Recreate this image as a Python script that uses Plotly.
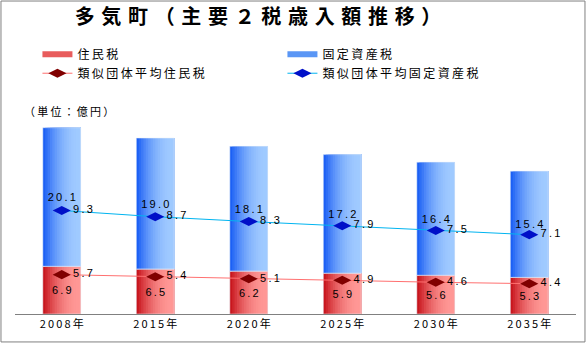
import plotly.graph_objects as go

# ---- data (億円) ----
years = ["2008年", "2015年", "2020年", "2025年", "2030年", "2035年"]
resident_tax = [6.9, 6.5, 6.2, 5.9, 5.6, 5.3]
property_tax = [20.1, 19.0, 18.1, 17.2, 16.4, 15.4]
peer_resident_tax = [5.7, 5.4, 5.1, 4.9, 4.6, 4.4]
peer_property_tax = [9.3, 8.7, 8.3, 7.9, 7.5, 7.1]

title_text = "多気町（主要２税歳入額推移）"
unit_text = "（単位：億円）"
name_resident = "住民税"
name_property = "固定資産税"
name_peer_resident = "類似団体平均住民税"
name_peer_property = "類似団体平均固定資産税"

FONT = "Noto Sans CJK JP"
RED_DARK, RED_LIGHT = (200, 22, 30), (255, 152, 150)
BLUE_DARK, BLUE_LIGHT = (28, 96, 245), (160, 202, 255)
BAR_W = 0.405
SLICES = 16


def spaced(s, sep="\u2009"):
    return sep.join(s)


def fmt(v):
    return spaced(f"{v:.1f}")


def blend(c0, c1, t):
    t = 1 - (1 - t) ** 2
    return "rgb(%d,%d,%d)" % tuple(round(a + (b - a) * t) for a, b in zip(c0, c1))


fig = go.Figure()

# stacked bars drawn as overlapping slices to give a left-to-right shading
for i in range(SLICES):
    t = i / (SLICES - 1)
    off = -BAR_W / 2 + i * BAR_W / SLICES
    w = BAR_W - i * BAR_W / SLICES
    fig.add_bar(x=years, y=resident_tax, offset=off, width=w,
                marker=dict(color=blend(RED_DARK, RED_LIGHT, t), line=dict(width=0)),
                showlegend=False, hoverinfo="skip")
    fig.add_bar(x=years, y=property_tax, base=resident_tax, offset=off, width=w,
                marker=dict(color=blend(BLUE_DARK, BLUE_LIGHT, t), line=dict(width=0)),
                showlegend=False, hoverinfo="skip")

# value labels centred in each segment
label_font = dict(family="Liberation Sans", size=11, color="black")
fig.add_bar(x=years, y=resident_tax, width=BAR_W, marker=dict(color="rgba(0,0,0,0)"),
            text=[fmt(v) for v in resident_tax], textposition="inside",
            insidetextanchor="middle", textangle=0, textfont=label_font,
            showlegend=False, hoverinfo="skip")
fig.add_bar(x=years, y=property_tax, base=resident_tax, width=BAR_W,
            marker=dict(color="rgba(0,0,0,0)"),
            text=[fmt(v) for v in property_tax], textposition="inside",
            insidetextanchor="middle", textangle=0, textfont=label_font,
            showlegend=False, hoverinfo="skip")

# legend keys for the bar series
fig.add_scatter(x=[None], y=[None], mode="lines", name=spaced(name_resident),
                line=dict(color="rgb(232,92,92)", width=6), legendrank=1)
fig.add_scatter(x=[None], y=[None], mode="lines", name=spaced(name_property),
                line=dict(color="rgb(90,150,245)", width=6), legendrank=2)

# peer-group averages, stacked on one another
fig.add_scatter(x=years, y=peer_resident_tax, stackgroup="peer", fill="none",
                mode="lines+markers+text", name=spaced(name_peer_resident),
                line=dict(color="#FF7070", width=1),
                marker=dict(symbol="diamond-wide", size=13, color="#800000"),
                text=["\u2009" + fmt(v) for v in peer_resident_tax],
                textposition="middle right", textfont=label_font,
                hoverinfo="skip", legendrank=3)
fig.add_scatter(x=years, y=peer_property_tax, stackgroup="peer", fill="none",
                mode="lines+markers+text", name=spaced(name_peer_property),
                line=dict(color="#00B4F0", width=1),
                marker=dict(symbol="diamond-wide", size=13, color="#0010C8"),
                text=["\u2009" + fmt(v) for v in peer_property_tax],
                textposition="middle right", textfont=label_font,
                hoverinfo="skip", legendrank=4)

fig.add_annotation(text=spaced(unit_text), xref="paper", yref="paper",
                   x=0.012, y=0.98, xanchor="left", yanchor="middle",
                   showarrow=False, font=dict(family=FONT, size=11, color="black"))

# outer frame
fig.add_shape(type="rect", xref="paper", yref="paper",
              x0=-0.025, x1=1.016, y0=-0.135, y1=1.512,
              line=dict(color="#808080", width=1), fillcolor="rgba(0,0,0,0)",
              layer="below")

fig.update_layout(
    width=587, height=344,
    margin=dict(l=15, r=11, t=107, b=30),
    barmode="overlay",
    paper_bgcolor="white", plot_bgcolor="white",
    font=dict(family=FONT, color="black"),
    title=dict(text=spaced(title_text, "\u2004"), xref="container", yref="container",
               x=258 / 587, xanchor="center", y=1 - 17 / 344, yanchor="middle",
               font=dict(family=FONT, size=20, color="black", weight="bold")),
    legend=dict(orientation="h", x=0.04, y=1.325, xanchor="left", yanchor="top",
                entrywidth=200, entrywidthmode="pixels",
                font=dict(family=FONT, size=12, color="black"),
                bgcolor="rgba(0,0,0,0)", traceorder="normal"),
    xaxis=dict(showline=True, linecolor="#808080", linewidth=1, ticks="",
               showgrid=False, zeroline=False,
               tickvals=years, ticktext=[spaced(y) for y in years],
               tickfont=dict(family=FONT, size=11, color="black")),
    yaxis=dict(visible=False, range=[0, 30]),
)

fig.write_html("out.html")
